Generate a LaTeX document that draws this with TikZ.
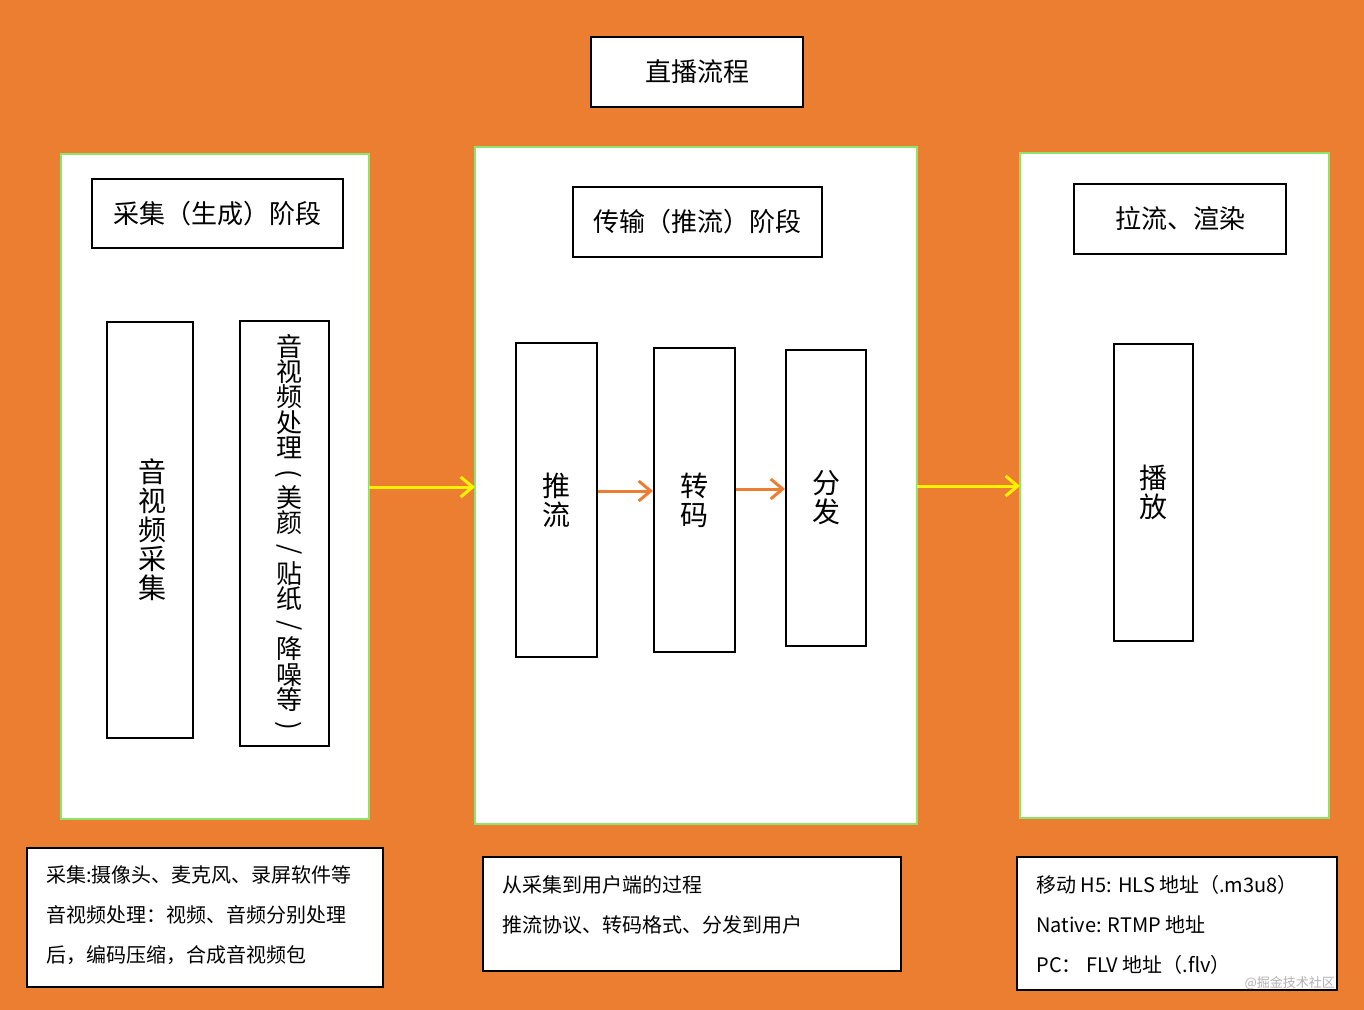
\documentclass[tikz,border=0pt]{standalone}
\usepackage{fontspec}
\setmainfont{Liberation Sans}
\newfontfamily\cjk{Noto Sans CJK SC}
\usepackage{graphicx}
\usetikzlibrary{arrows.meta}
\definecolor{bgor}{HTML}{EC7E31}
\definecolor{pgreen}{HTML}{8EE36A}
\tikzset{
 panel/.style={draw=pgreen,fill=white,line width=1pt},
 box/.style={draw=black,fill=white,line width=1pt},
 head/.style={font=\cjk\fontsize{13}{15}\selectfont},
 vtxt/.style={font=\cjk\fontsize{14}{14.5}\selectfont,align=center,inner sep=0pt},
 vtxtb/.style={font=\cjk\fontsize{13}{12.6}\selectfont,align=center,inner sep=0pt},
 note/.style={font=\cjk\fontsize{10}{20}\selectfont,align=left,anchor=north west,inner sep=0pt},
 yarr/.style={draw=yellow,line width=1.5pt,-{Straight Barb[length=6pt,width=10pt]}},
 oarr/.style={draw=bgor,line width=1.5pt,-{Straight Barb[length=6pt,width=10pt]}},
}
\newcommand{\vp}[1]{\rotatebox[origin=c]{-90}{#1}}
\begin{document}
\begin{tikzpicture}[x=0.5pt,y=-0.5pt]
\fill[bgor] (0,0) rectangle (1364,1010);
\useasboundingbox (0,0) rectangle (1364,1010);
% title
\node[box,minimum width=106pt,minimum height=35pt,head] (title) at (697,72) {直播流程};
% panels
\draw[panel] (61,154) rectangle (369,819);
\coordinate (p1r) at (369,487);
\draw[panel] (475,147) rectangle (917,824);
\coordinate (p2l) at (475,487);
\coordinate (p2r) at (917,486);
\draw[panel] (1020,153) rectangle (1329,818);
\coordinate (p3l) at (1020,486);
% headers
\node[box,minimum width=125.5pt,minimum height=34.5pt,head] (h1) at (217.5,213.5) {采集（生成）阶段};
\node[box,minimum width=124.5pt,minimum height=35pt,head] (h2) at (697.5,222) {传输（推流）阶段};
\node[box,minimum width=106pt,minimum height=35pt,head] (h3) at (1180,219) {拉流、渲染};
% panel 1 boxes
\node[box,minimum width=43pt,minimum height=208pt] (b1) at (150,530) {};
\node[vtxt] at (152,530) {音\\视\\频\\采\\集};
\node[box,minimum width=44.5pt,minimum height=212.5pt] (b2) at (284.5,533.5) {};
\node[vtxtb,anchor=north] at (289,334) {音\\视\\频\\处\\理\\\vp{(}\\美\\颜\\\vp{/}\\贴\\纸\\\vp{/}\\降\\噪\\等\\\vp{)}};
% panel 2 boxes
\node[box,minimum width=40.5pt,minimum height=157pt] (t1) at (556.5,500) {};
\node[vtxt] at (t1) {推\\流};
\node[box,minimum width=40.5pt,minimum height=152pt] (t2) at (694.5,500) {};
\node[vtxt] at (t2) {转\\码};
\node[box,minimum width=40pt,minimum height=148pt] (t3) at (826,498) {};
\node[vtxt] at (t3) {分\\发};
\draw[oarr] (t1.east|-0,491) -- (t2.west|-0,491);
\draw[oarr] (t2.east|-0,489) -- (t3.west|-0,489);
% panel 3 box
\node[box,minimum width=39.5pt,minimum height=148.5pt] (pl) at (1153.5,492.5) {};
\node[vtxt] at (pl) {播\\放};
% yellow arrows
\draw[yarr] (p1r) -- (p2l);
\draw[yarr] (p2r) -- (p3l);
% notes
\node[box,minimum width=178pt,minimum height=69.5pt,anchor=north west] (n1) at (26,847) {};
\node[note] at (46,865) {采集:摄像头、麦克风、录屏软件等\\音视频处理：视频、音频分别处理\\后，编码压缩，合成音视频包};
\node[box,minimum width=209pt,minimum height=57pt,anchor=north west] (n2) at (482,856) {};
\node[note] at (502,875) {从采集到用户端的过程\\推流协议、转码格式、分发到用户};
\node[box,minimum width=160pt,minimum height=66.5pt,anchor=north west] (n3) at (1016,856) {};
\node[note] at (1036,875) {移动 H5: HLS {\cjk 地址（}.m3u8{\cjk ）}\\Native: RTMP {\cjk 地址}\\PC{\cjk ：} FLV {\cjk 地址（}.flv{\cjk ）}};
\node[font=\cjk\fontsize{6.5}{7}\selectfont,text=gray!60,anchor=east] (wm) at (1342,983) {@掘金技术社区};
\end{tikzpicture}
\end{document}
